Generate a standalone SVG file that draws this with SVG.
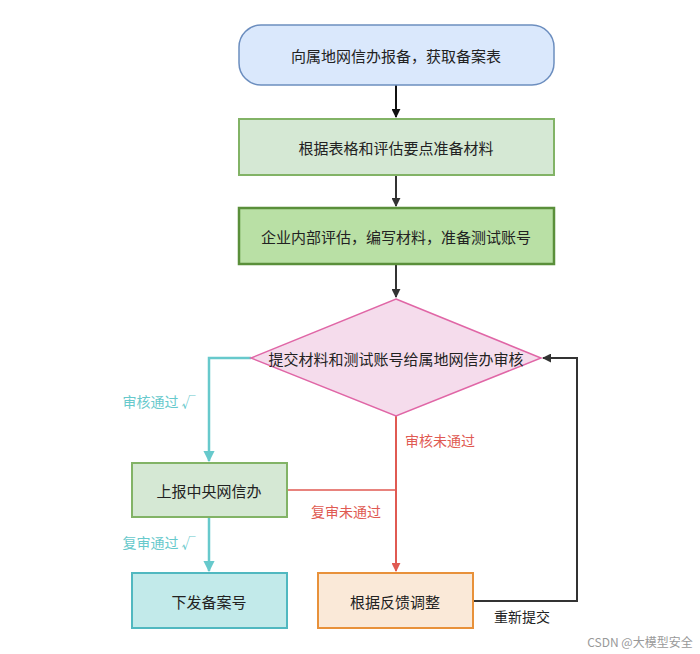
<svg xmlns="http://www.w3.org/2000/svg" width="700" height="654" viewBox="0 0 700 654">
<defs>
<style>
text{font-family:"Noto Sans CJK SC","Liberation Sans",sans-serif;font-size:15px;text-anchor:middle;dominant-baseline:central;fill:#222}
.lbl{font-size:14px}
</style>
<marker id="ak" viewBox="0 0 10 10" refX="9" refY="5" markerWidth="4.5" markerHeight="4.5" orient="auto"><path d="M0,0L10,5L0,10z" fill="#111"/></marker>
<marker id="at" viewBox="0 0 10 10" refX="9" refY="5" markerWidth="4.5" markerHeight="4.5" orient="auto"><path d="M0,0L10,5L0,10z" fill="#67c9cc"/></marker>
<marker id="ar" viewBox="0 0 10 10" refX="9" refY="5" markerWidth="4.5" markerHeight="4.5" orient="auto"><path d="M0,0L10,5L0,10z" fill="#e05a52"/></marker>
<marker id="ag" viewBox="0 0 10 10" refX="9" refY="5" markerWidth="4.5" markerHeight="4.5" orient="auto"><path d="M0,0L10,5L0,10z" fill="#333"/></marker>
</defs>
<rect width="700" height="654" fill="#fff"/>
<g id="connectors" fill="none" stroke-width="2">
<path d="M396,85V117" stroke="#111" marker-end="url(#ak)"/>
<path d="M396,175V206" stroke="#333" marker-end="url(#ag)"/>
<path d="M396,264V297" stroke="#333" marker-end="url(#ag)"/>
<path d="M251,358H209V461" stroke="#67c9cc" stroke-width="2.5" marker-end="url(#at)"/>
<path d="M209,517V571" stroke="#67c9cc" stroke-width="2.5" marker-end="url(#at)"/>
<path d="M396,416V571" stroke="#e05a52" marker-end="url(#ar)"/>
<path d="M287,490H396" stroke="#e05a52" stroke-width="1.5"/>
<path d="M473,601H577V358H543" stroke="#333" marker-end="url(#ag)"/>
</g>
<g id="n1"><rect x="239" y="25" width="315" height="60" rx="22" fill="#dae8fc" stroke="#6c8ebf" stroke-width="1.5"/><text x="396" y="55">向属地网信办报备，获取备案表</text></g>
<g id="n2"><rect x="239" y="119" width="315" height="56" fill="#d5e8d4" stroke="#82b366" stroke-width="2"/><text x="396" y="147">根据表格和评估要点准备材料</text></g>
<g id="n3"><rect x="239" y="208" width="315" height="56" fill="#b9e0a5" stroke="#5a8f3a" stroke-width="2.5"/><text x="396" y="236">企业内部评估，编写材料，准备测试账号</text></g>
<g id="n4"><path d="M396,299L541,358L396,416L251,358z" fill="#f5dcec" stroke="#e066a6" stroke-width="1.5"/><text x="396" y="358">提交材料和测试账号给属地网信办审核</text></g>
<g id="n5"><rect x="132" y="463" width="155" height="54" fill="#d5e8d4" stroke="#82b366" stroke-width="2"/><text x="209" y="490">上报中央网信办</text></g>
<g id="n6"><rect x="132" y="573" width="155" height="55" fill="#c2eaea" stroke="#50b8c0" stroke-width="2"/><text x="209" y="601">下发备案号</text></g>
<g id="n7"><rect x="318" y="573" width="155" height="55" fill="#fae9d8" stroke="#e8913a" stroke-width="2"/><text x="395" y="601">根据反馈调整</text></g>
<g id="labels">
<text class="lbl" x="159" y="401" style="fill:#67c9cc">审核通过 √</text>
<text class="lbl" x="159" y="542" style="fill:#67c9cc">复审通过 √</text>
<text class="lbl" x="440" y="440" style="fill:#e05a52">审核未通过</text>
<text class="lbl" x="346" y="511" style="fill:#e05a52">复审未通过</text>
<text class="lbl" x="522" y="616">重新提交</text>
<text x="640" y="641" style="font-size:12px;fill:#999">CSDN @大模型安全</text>
</g>
</svg>
